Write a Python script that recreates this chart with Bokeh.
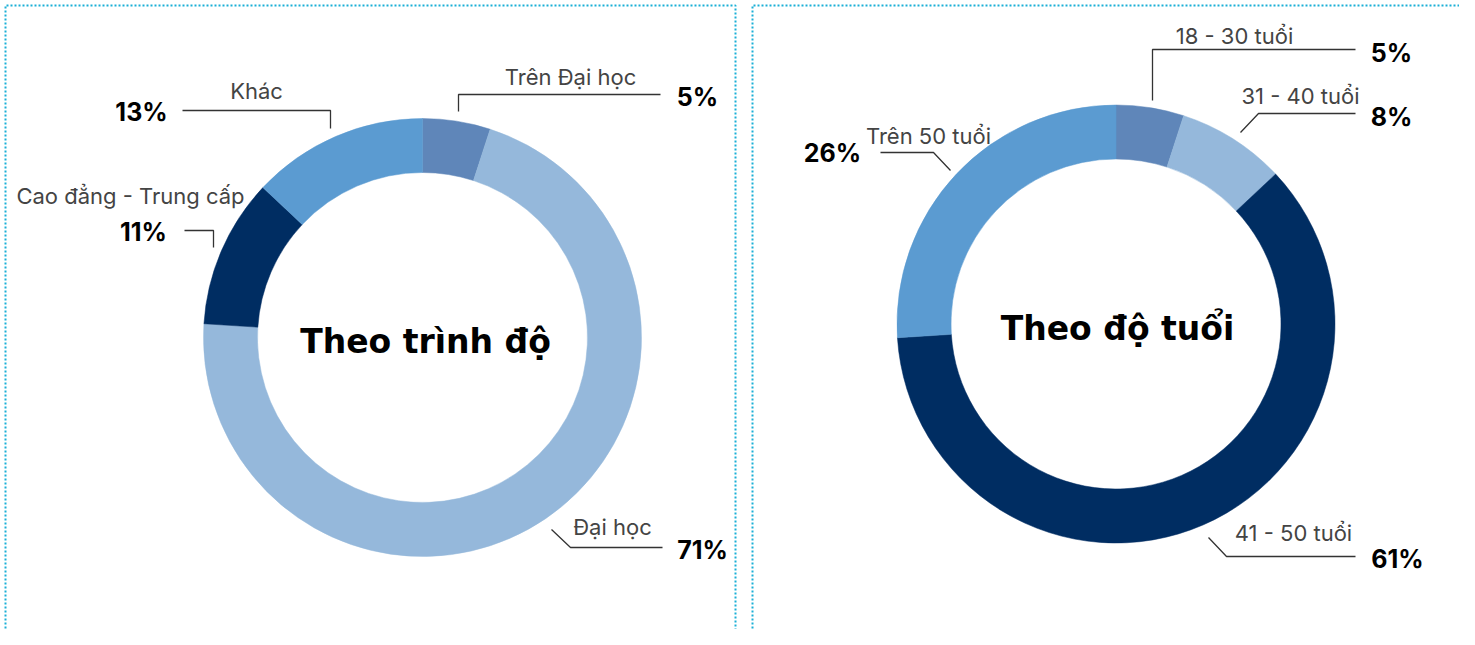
import numpy as np
from bokeh.plotting import figure
from bokeh.models import Range1d, ColumnDataSource
from bokeh.core.properties import value
from bokeh.embed import file_html
from bokeh.resources import INLINE

# ---- data ----
edu_categories = ["Trên Đại học", "Đại học", "Cao đẳng - Trung cấp", "Khác"]
edu_values = [5, 71, 11, 13]
age_categories = ["18 - 30 tuổi", "31 - 40 tuổi", "41 - 50 tuổi", "Trên 50 tuổi"]
age_values = [5, 8, 61, 26]
edu_title = "Theo trình độ"
age_title = "Theo độ tuổi"

colors = ["#5f86b9", "#95b8db", "#002d62", "#5b9bd1"]

W, H = 1459, 629
FONT = "Inter"
TITLE_FONT = "DejaVu Sans"

p = figure(width=W, height=H, x_range=Range1d(0, W), y_range=Range1d(645 - H, 645),
           output_backend="svg", toolbar_location=None, min_border=0)
p.axis.visible = False
p.grid.visible = False
p.outline_line_color = None
p.background_fill_color = "white"
p.border_fill_color = "white"


def Y(py):  # screen y -> data y
    return 645 - py


def donut(cx, cy, values):
    vals = np.array(values, dtype=float)
    fr = vals / vals.sum()
    cum_end = np.cumsum(fr)
    cum_start = cum_end - fr
    start = np.pi / 2 - 2 * np.pi * cum_end
    end = np.pi / 2 - 2 * np.pi * cum_start
    src = ColumnDataSource(dict(x=[cx] * len(vals), y=[Y(cy)] * len(vals),
                                start=start, end=end, color=colors[:len(vals)]))
    p.annular_wedge(x="x", y="y", inner_radius=165, outer_radius=219,
                    start_angle="start", end_angle="end", color="color",
                    line_color="color", line_width=0.5, source=src, direction="anticlock")


donut(422, 337, edu_values)
donut(1115.5, 323.5, age_values)

# centre titles
p.text(x=[425, 1117], y=[Y(341), Y(328)], text=[edu_title, age_title],
       text_font=value(TITLE_FONT), text_font_style="bold", text_font_size="33px",
       text_color="#000000", text_align="center", text_baseline="middle")

# category labels: (text, x, y)
cat_pos = [
    (edu_categories[0], 570, 76),
    (edu_categories[1], 612, 526),
    (edu_categories[2], 130, 195),
    (edu_categories[3], 256, 90),
    (age_categories[0], 1234, 35),
    (age_categories[1], 1300, 95),
    (age_categories[2], 1293, 532),
    (age_categories[3], 928, 135),
]
p.text(x=[c[1] for c in cat_pos], y=[Y(c[2]) for c in cat_pos], text=[c[0] for c in cat_pos],
       text_font=value(FONT), text_font_size="22px", text_color="#444444",
       text_align="center", text_baseline="middle")

# percentage labels
all_values = edu_values + age_values
pct_pos = [(697, 96), (702, 549), (143, 231), (141, 111),
           (1391, 52), (1391, 116), (1397, 558), (832, 152)]
p.text(x=[q[0] for q in pct_pos], y=[Y(q[1]) for q in pct_pos],
       text=[f"{v}%" for v in all_values],
       text_font=value(FONT), text_font_style="bold", text_font_size="25px",
       text_color="#000000", text_align="center", text_baseline="middle")

# leader lines (screen coords)
leaders = [
    [(660, 94), (458, 94), (458, 111)],
    [(662, 547), (570, 547), (551, 529)],
    [(184, 230), (213, 230), (213, 247)],
    [(182, 110), (330, 110), (330, 128)],
    [(1355, 49), (1152, 49), (1152, 100)],
    [(1355, 113), (1258, 113), (1240, 132)],
    [(1355, 556), (1226, 556), (1208, 537)],
    [(880, 152), (933, 152), (950, 170)],
]
p.multi_line(xs=[[pt[0] for pt in l] for l in leaders],
             ys=[[Y(pt[1]) for pt in l] for l in leaders],
             line_color="#333333", line_width=1.3)

# dotted panel borders
bx = [[5, 5, 735, 735], [752, 752, 1490, 1490]]
by = [[Y(660), Y(5), Y(5), Y(660)], [Y(660), Y(5), Y(5), Y(660)]]
p.multi_line(xs=bx, ys=by, line_color="#1aafd6", line_width=2, line_dash="2 2")

open("out.html", "w").write(file_html(p, INLINE))
